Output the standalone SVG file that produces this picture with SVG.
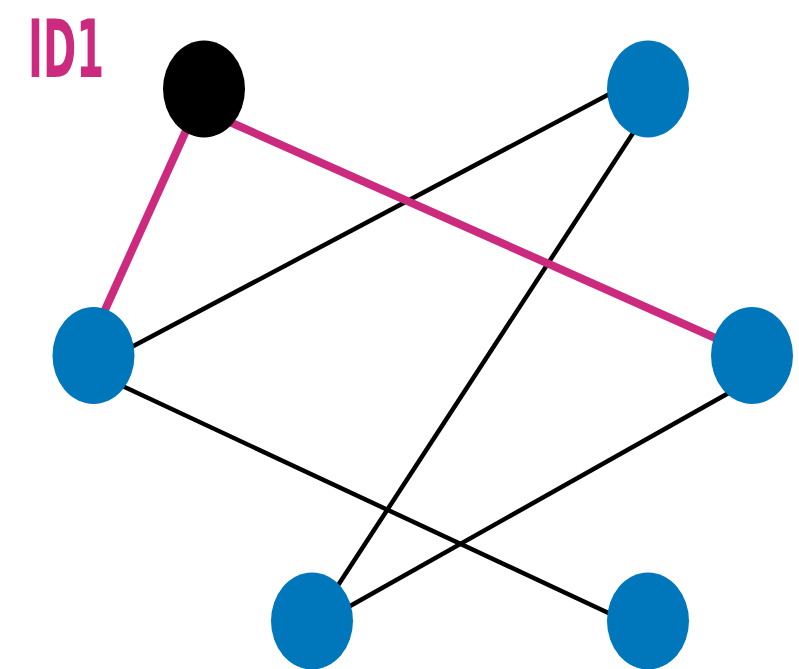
<svg xmlns="http://www.w3.org/2000/svg" width="799" height="669" viewBox="0 0 799 669">
<style>
.e{stroke:#000;stroke-width:4.5;fill:none}
.m{stroke:#CC2A7E;stroke-width:8;fill:none}
.n{fill:#0077BB}
.label{fill:#CC2A7E;font-family:"DejaVu Sans Condensed","DejaVu Sans",sans-serif;font-weight:bold}
</style>
<rect width="799" height="669" fill="#fff"/>
<text class="label" x="28" y="77" font-size="80" textLength="76" lengthAdjust="spacingAndGlyphs">ID1</text>
<g id="edges">
<line class="e" x1="617" y1="90" x2="124" y2="351"/>
<line class="e" x1="637" y1="127" x2="333" y2="593"/>
<line class="e" x1="116" y1="383" x2="617" y2="617"/>
<line class="e" x1="734" y1="390" x2="343" y2="610"/>
<line class="m" x1="189" y1="124" x2="100" y2="321"/>
<line class="m" x1="223" y1="119" x2="722" y2="341"/>
</g>
<g id="n0"><ellipse cx="204" cy="89" rx="41" ry="48.5" fill="#000"/></g>
<g id="n1"><ellipse class="n" cx="648" cy="89" rx="41" ry="48.5"/></g>
<g id="n2"><ellipse class="n" cx="93.5" cy="355.5" rx="41" ry="48.5"/></g>
<g id="n3"><ellipse class="n" cx="752" cy="355.5" rx="41" ry="48.5"/></g>
<g id="n4"><ellipse class="n" cx="312" cy="621" rx="41" ry="48.5"/></g>
<g id="n5"><ellipse class="n" cx="648" cy="621" rx="41" ry="48.5"/></g>
</svg>
